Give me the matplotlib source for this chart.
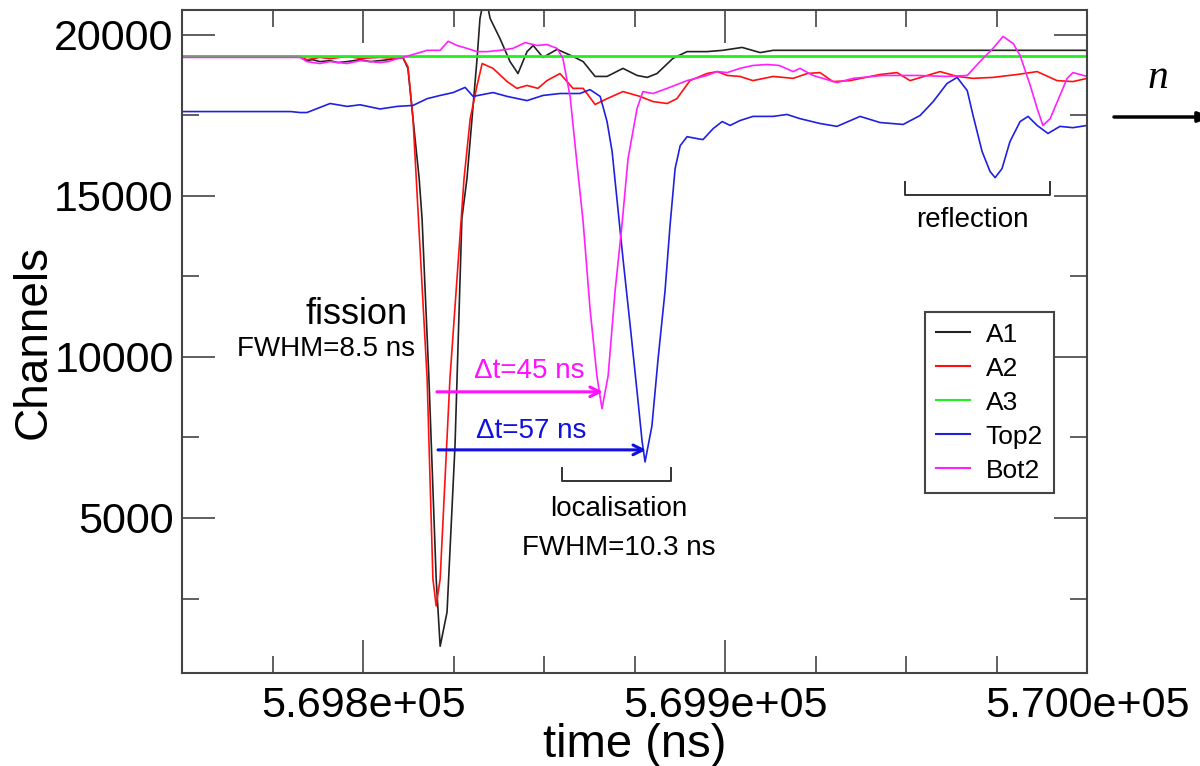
import matplotlib
matplotlib.use("Agg")
import matplotlib.pyplot as plt
from matplotlib.ticker import MultipleLocator, FormatStrFormatter

plt.rcParams['font.family'] = ['Liberation Sans', 'DejaVu Sans']

# ---- data (time in ns, amplitude in channels) ----
t_a1 = [569750.0, 569782.6, 569784.5, 569786.0, 569788.1, 569790.9, 569793.0, 569795.6, 569799.2,
        569802.0, 569804.7, 569807.0, 569809.4, 569811.0, 569812.4, 569813.8, 569815.5, 569816.3,
        569818.2, 569820.2, 569821.3, 569823.2, 569825.4, 569827.3, 569828.7, 569830.1, 569831.5,
        569832.3, 569833.7, 569835.1, 569837.8, 569840.6, 569842.8, 569845.3, 569847.0, 569849.7,
        569852.5, 569853.6, 569858.0, 569860.8, 569864.1, 569867.4, 569871.8, 569875.7, 569878.5,
        569881.2, 569885.6, 569889.5, 569895.0, 569899.4, 569904.7, 569909.7, 569913.3, 570000.0]
y_a1 = [19320, 19320, 19190, 19220, 19160, 19190, 19130, 19160, 19220, 19160, 19190, 19220, 19260,
        19290, 18950, 17390, 15530, 14290, 9320, 3110, 1020, 2080, 7240, 14290, 15530, 17390, 19260,
        20500, 21280, 20500, 19880, 19160, 18790, 19470, 19660, 19290, 19470, 19540, 19320, 19160,
        18700, 18700, 18950, 18730, 18670, 18790, 19260, 19470, 19470, 19510, 19600, 19440, 19510, 19510]

t_a2 = [569750.0, 569782.6, 569784.5, 569788.1, 569790.9, 569795.6, 569799.2, 569804.7, 569809.4,
        569811.0, 569812.4, 569813.8, 569817.7, 569819.3, 569820.2, 569821.3, 569824.0, 569827.9,
        569829.6, 569831.5, 569832.9, 569835.9, 569839.8, 569842.5, 569845.3, 569848.3, 569850.8,
        569854.4, 569858.0, 569860.8, 569864.1, 569867.4, 569871.8, 569876.5, 569880.1, 569884.0,
        569886.7, 569890.3, 569895.0, 569897.8, 569900.6, 569904.1, 569907.7, 569913.3, 569918.8,
        569922.7, 569926.2, 569929.8, 569934.5, 569942.8, 569947.5, 569951.1, 569959.4, 569964.1,
        569968.5, 569974.0, 569980.7, 569986.2, 569991.7, 569996.1, 570000.0]
y_a2 = [19320, 19320, 19220, 19290, 19250, 19320, 19260, 19290, 19260, 19290, 19000, 17390, 9320,
        3110, 2270, 3110, 9320, 15530, 17390, 18420, 19100, 18950, 18540, 18330, 18420, 18330, 18570,
        18790, 18330, 18330, 17830, 18010, 18230, 18080, 17920, 17860, 18010, 18570, 18790, 18850,
        18730, 18700, 18570, 18700, 18640, 18790, 18820, 18540, 18570, 18760, 18820, 18570, 18850,
        18700, 18640, 18670, 18760, 18850, 18570, 18540, 18640]

t_a3 = [569750.0, 570000.0]
y_a3 = [19330, 19330]

t_top2 = [569750.0, 569780.0, 569782.6, 569784.5, 569790.9, 569795.6, 569799.2, 569804.7, 569809.4,
          569813.8, 569817.7, 569821.3, 569824.9, 569828.2, 569830.4, 569835.9, 569839.8, 569845.3,
          569849.7, 569854.4, 569859.9, 569862.7, 569865.5, 569867.4, 569868.8, 569870.2, 569871.8,
          569873.8, 569875.7, 569877.1, 569877.9, 569879.8, 569881.5, 569883.4, 569884.8, 569886.2,
          569887.6, 569889.5, 569892.3, 569893.9, 569896.7, 569899.2, 569901.4, 569904.1, 569907.7,
          569913.3, 569917.1, 569920.7, 569926.2, 569930.9, 569937.3, 569942.8, 569949.2, 569953.9,
          569957.5, 569961.3, 569964.1, 569966.9, 569968.5, 569971.0, 569973.2, 569974.6, 569976.5,
          569978.7, 569981.5, 569983.7, 569986.2, 569989.2, 569992.5, 569996.1, 570000.0]
y_top2 = [17610, 17610, 17580, 17580, 17860, 17770, 17820, 17690, 17770, 17800, 18010, 18110, 18200,
          18360, 18080, 18200, 18080, 17950, 18110, 18170, 18170, 18290, 18080, 17300, 16370, 14820,
          13050, 10960, 8910, 7360, 6740, 7860, 9940, 12020, 14070, 15840, 16550, 16830, 16770, 16740,
          17080, 17300, 17180, 17330, 17460, 17460, 17520, 17390, 17240, 17150, 17460, 17270, 17210,
          17490, 17920, 18480, 18670, 18260, 17490, 16370, 15750, 15560, 15840, 16680, 17300, 17460,
          17180, 16930, 17150, 17110, 17180]

t_bot2 = [569750.0, 569782.6, 569784.5, 569788.1, 569790.9, 569795.6, 569799.2, 569804.7, 569807.0,
          569809.4, 569811.0, 569813.8, 569817.7, 569821.3, 569823.5, 569826.0, 569828.7, 569831.5,
          569834.3, 569837.8, 569841.4, 569844.8, 569848.1, 569850.8, 569853.6, 569855.2, 569857.2,
          569859.1, 569860.8, 569862.7, 569864.6, 569866.0, 569867.7, 569869.6, 569871.5, 569873.2,
          569875.7, 569877.3, 569880.1, 569884.0, 569889.5, 569895.0, 569897.8, 569900.6, 569904.1,
          569907.7, 569911.6, 569915.0, 569918.8, 569920.7, 569924.3, 569930.9, 569935.4, 569943.6,
          569953.0, 569961.3, 569966.9, 569970.4, 569974.0, 569976.8, 569979.6, 569981.5, 569984.3,
          569986.2, 569987.8, 569989.8, 569992.5, 569994.5, 569996.1, 570000.0]
y_bot2 = [19290, 19290, 19160, 19100, 19160, 19100, 19190, 19130, 19160, 19250, 19290, 19380, 19510,
          19510, 19790, 19660, 19570, 19470, 19470, 19510, 19570, 19750, 19660, 19690, 19570, 19260,
          18080, 15990, 14180, 11490, 9410, 8390, 9410, 12020, 14070, 16150, 17710, 18230, 18170, 18330,
          18570, 18730, 18850, 18820, 18950, 19040, 19070, 19040, 18850, 18950, 18730, 18510, 18640,
          18730, 18730, 18700, 18730, 19160, 19570, 19940, 19720, 19350, 18420, 17710, 17180, 17390,
          18110, 18640, 18820, 18700]

series_labels = ["A1", "A2", "A3", "Top2", "Bot2"]
series_colors = ["#222222", "#ff1010", "#22ee22", "#2020e0", "#ff20ff"]

fig = plt.figure(figsize=(12, 7.66), dpi=100)
ax = fig.add_axes([0.1517, 0.1214, 0.7542, 0.8655])

for (t, y), lab, col in zip([(t_a1, y_a1), (t_a2, y_a2), (t_a3, y_a3), (t_top2, y_top2), (t_bot2, y_bot2)],
                            series_labels, series_colors):
    lw = 2.0 if lab == "A3" else 1.2
    ax.plot(t, y, color=col, lw=lw, label=lab)

ax.set_xlim(569750, 570000)
ax.set_ylim(190, 20760)
ax.xaxis.set_major_locator(MultipleLocator(100))
ax.xaxis.set_minor_locator(MultipleLocator(25))
ax.xaxis.set_major_formatter(FormatStrFormatter('%.3e'))
ax.yaxis.set_major_locator(MultipleLocator(5000))
ax.yaxis.set_minor_locator(MultipleLocator(2500))

ax.tick_params(which='both', direction='in', top=True, right=True, colors='#444444', labelcolor='black')
ax.tick_params(which='major', length=23.5, width=1.2, labelsize=31, pad=6)
ax.tick_params(which='minor', length=12, width=1.2)
ax.tick_params(axis='x', which='major', pad=9)
for s in ax.spines.values():
    s.set_color('#444444')
    s.set_linewidth(1.5)

ax.set_xlabel("time (ns)", fontsize=34, labelpad=-2)
ax.set_ylabel("Channels", fontsize=33, labelpad=-1)

# annotations
ax.text(569798.1, 11020, "fission", fontsize=26, ha='center', va='baseline')
ax.text(569789.9, 10030, "FWHM=8.5 ns", fontsize=20, ha='center', va='baseline')
ax.text(569846.0, 9350, "\u0394t=45 ns", fontsize=20, ha='center', va='baseline', color='#ff10ff')
ax.text(569846.4, 7485, "\u0394t=57 ns", fontsize=20, ha='center', va='baseline', color='#1010e0')
ax.annotate("", xy=(569866.3, 8914), xytext=(569820.4, 8914),
            arrowprops=dict(arrowstyle='->,head_length=0.7,head_width=0.35', color='#ff10ff', lw=2.2,
                            shrinkA=0, shrinkB=0))
ax.annotate("", xy=(569878.2, 7113), xytext=(569820.7, 7113),
            arrowprops=dict(arrowstyle='->,head_length=0.7,head_width=0.35', color='#1010e0', lw=2.2,
                            shrinkA=0, shrinkB=0))
# localisation bracket
ax.plot([569855.0, 569855.0, 569885.1, 569885.1], [6554, 6150, 6150, 6554], color='#333333', lw=1.4)
ax.text(569870.7, 5063, "localisation", fontsize=20, ha='center', va='baseline')
ax.text(569870.7, 3851, "FWHM=10.3 ns", fontsize=20, ha='center', va='baseline')
# reflection bracket
ax.plot([569949.7, 569949.7, 569989.8, 569989.8], [15437, 15033, 15033, 15437], color='#333333', lw=1.4)
ax.text(569968.2, 14020, "reflection", fontsize=20, ha='center', va='baseline')

leg = ax.legend(loc='upper left', bbox_to_anchor=(0.821, 0.5445), borderaxespad=0,
                fontsize=19, fancybox=False, framealpha=1, edgecolor='#444444',
                handlelength=1.3, handletextpad=0.6, borderpad=0.4, labelspacing=0.38)
leg.get_frame().set_linewidth(1.5)
for h in leg.get_lines():
    h.set_linewidth(1.5)

# neutron direction arrow outside the axes
fig.text(1158 / 1200, 1 - 78 / 766, "n", fontsize=30, style='italic', family=['Liberation Serif', 'DejaVu Serif'],
         ha='center', va='center')
ax.annotate("", xy=(1212, 766 - 117), xytext=(1114, 766 - 117), xycoords='figure pixels',
            textcoords='figure pixels', annotation_clip=False,
            arrowprops=dict(arrowstyle='-|>,head_length=0.8,head_width=0.3', color='black', lw=2.5,
                            shrinkA=0, shrinkB=0))

fig.savefig("out.png", dpi=100)
